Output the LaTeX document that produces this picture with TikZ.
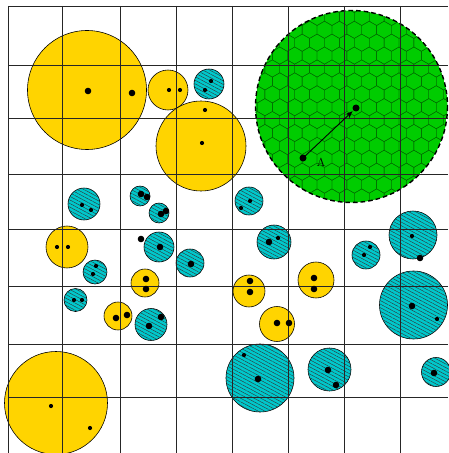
\documentclass[tikz,border=0pt]{standalone}
\usetikzlibrary{patterns.meta,arrows.meta}

\definecolor{ballgold}{RGB}{255,212,0}
\definecolor{ballteal}{RGB}{0,200,204}
\definecolor{blobgreen}{RGB}{0,204,0}
\definecolor{hexline}{RGB}{0,105,0}

\tikzset{
  goldball/.style={draw=black, line width=0.5pt, fill=ballgold},
  tealball/.style={draw=black, line width=0.5pt, fill=ballteal,
    postaction={pattern={Lines[angle=-28,distance=2.7pt,line width=0.35pt]}, pattern color=black!80}},
  gridline/.style={draw=black!85, line width=0.6pt},
  hexcell/.style={draw=hexline, line width=0.3pt},
  blobrim/.style={draw=black, line width=1.2pt, dash pattern=on 4pt off 2.5pt},
}

\begin{document}
\begin{tikzpicture}[x=0.03cm, y=-0.03cm, >=Stealth]
    \useasboundingbox (0,0) rectangle (448,453);

    % Bola kuning
    \foreach \x/\y/\r in {87/90/59.5, 168/90/20, 201/146/45, 67/247/21, 118/316/14,
                          145/283/14, 56/403/51.5, 249/291/16, 316/280/18, 277/324/17.5}
        \draw[goldball] (\x,\y) circle[radius=\r];

    % Bola biru
    \foreach \x/\y/\r in {209/84/15, 84/204/16, 140/196/10, 159/213/10, 249/201/14,
                          413/235/24, 95/272/12, 75.5/300/11.5, 151/324.5/16, 159/247/15,
                          190/263/14, 274/242/17, 366/255/14, 413.5/305/34, 260/378/34,
                          329.5/369.5/21.5, 436/372/14.5}
        \draw[tealball] (\x,\y) circle[radius=\r];

    % Daerah hijau
    \begin{scope}
        \clip (351.5,106.5) circle[radius=96];
        \fill[blobgreen] (351.5,106.5) circle[radius=96];
        \foreach \row in {0,...,16} {
            \foreach \col in {0,...,14} {
                \pgfmathsetmacro\hx{250 + \col*14.9 + mod(\row,2)*7.45}
                \pgfmathsetmacro\hy{4 + \row*12.9}
                \draw[hexcell] (\hx,\hy) +(30:8.6) -- +(90:8.6) -- +(150:8.6) -- +(210:8.6)
                    -- +(270:8.6) -- +(330:8.6) -- cycle;
            }
        }
    \end{scope}
    \draw[blobrim] (351.5,106.5) circle[radius=96];

    % Grid
    \foreach \gx in {8,62,120,176,232,288,344,400}
        \draw[gridline] (\gx,6) -- (\gx,453);
    \foreach \gy in {6,65,118,174,229,286,344,397}
        \draw[gridline] (8,\gy) -- (448,\gy);

    % Titik besar
    \foreach \x/\y in {88/91, 132/93, 141/194, 147/197, 161/214, 166/211, 116/318, 127/315,
                       149/326, 161/317, 146/279, 146/289, 160/247, 141/239, 191/264,
                       269/242, 250/281, 250/292, 314/278, 314/289, 277/323, 289/323,
                       412/306, 258/379, 328/370, 336/385, 434/373, 420/258}
        \fill (\x,\y) circle[radius=3.3];

    % Titik kecil
    \foreach \x/\y in {169/90, 180/90, 202/143, 205/110, 211/81, 205/90, 82/205, 91/210,
                       250/201, 241/208, 412/236, 57/247, 68/247, 96/266, 93/274,
                       74/300, 82/300, 51/406, 90/428, 278/238, 370/247, 364/255,
                       437/319, 244/355}
        \fill (\x,\y) circle[radius=2.1];

    % Vektor A
    \coordinate (tail) at (303,158);
    \coordinate (head) at (356,108);
    \fill (tail) circle[radius=3.5];
    \fill (head) circle[radius=3.5];
    \draw[->, line width=0.75pt, shorten >=4pt] (tail) -- (head);
    \node (labelA) at (321,162) {A};
\end{tikzpicture}
\end{document}
